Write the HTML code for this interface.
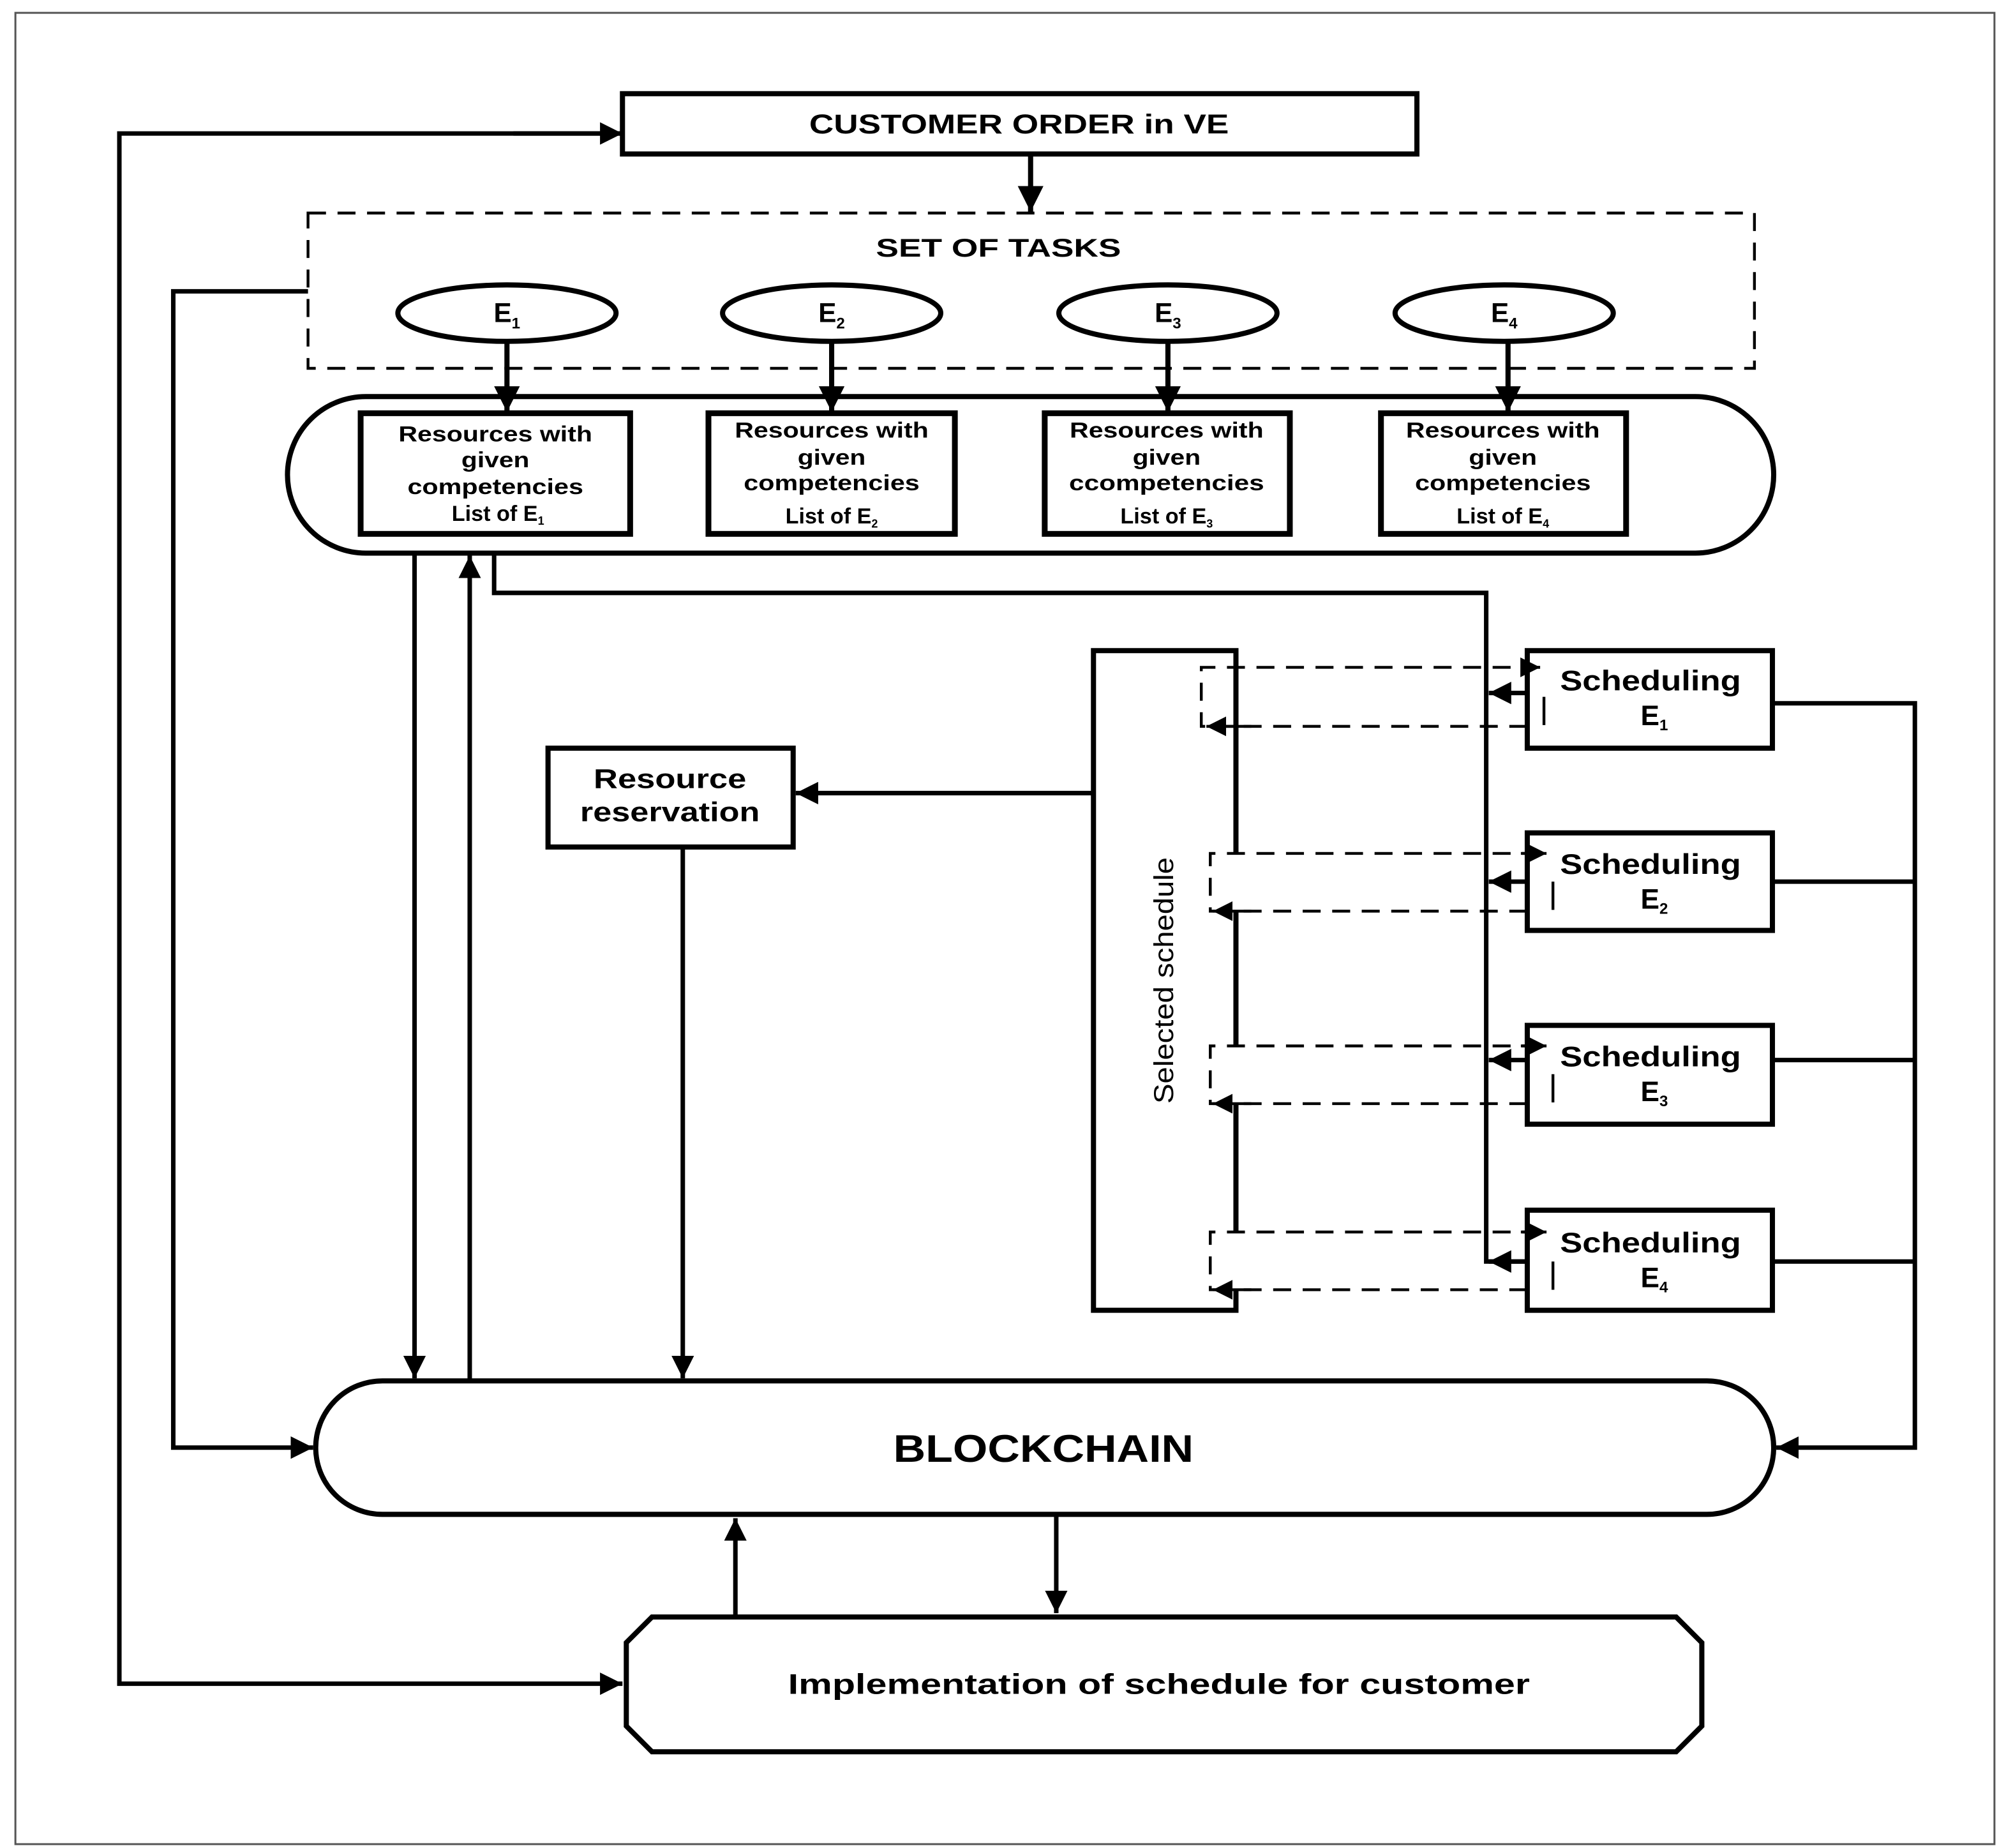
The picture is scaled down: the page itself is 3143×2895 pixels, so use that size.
<!DOCTYPE html>
<html><head><meta charset="utf-8"><style>html,body{margin:0;padding:0;background:#fff}svg{display:block}</style></head><body>
<svg width="3143" height="2895" viewBox="0 0 1563 1440" preserveAspectRatio="none" xmlns="http://www.w3.org/2000/svg" font-family="Liberation Sans, Arial, sans-serif" font-weight="bold">
<defs>
<marker id="a" viewBox="0 0 10 10" refX="10" refY="5" markerWidth="5" markerHeight="5" orient="auto" markerUnits="strokeWidth"><path d="M0,0L10,5L0,10z" fill="#000"/></marker>
<marker id="b" viewBox="0 0 10 10" refX="10" refY="5" markerWidth="7" markerHeight="7" orient="auto" markerUnits="strokeWidth"><path d="M0,0L10,5L0,10z" fill="#000"/></marker>
</defs>
<rect x="0" y="0" width="1563" height="1440" fill="#fff"/>
<rect x="12" y="10" width="1542" height="1427" fill="none" stroke="#555" stroke-width="1.5"/>
<g fill="none" stroke="#000" stroke-width="4">
<rect x="485" y="73" width="619" height="47"/>
<line x1="803" y1="120" x2="803" y2="165" marker-end="url(#a)"/>
<rect x="240" y="166" width="1127" height="121" stroke-width="2.2" stroke-dasharray="14,9"/>
<ellipse cx="395" cy="244" rx="85" ry="22"/>
<ellipse cx="648" cy="244" rx="85" ry="22"/>
<ellipse cx="910" cy="244" rx="85" ry="22"/>
<ellipse cx="1172" cy="244" rx="85" ry="22"/>
<line x1="395" y1="266" x2="395" y2="321" marker-end="url(#a)"/>
<line x1="648" y1="266" x2="648" y2="321" marker-end="url(#a)"/>
<line x1="910" y1="266" x2="910" y2="321" marker-end="url(#a)"/>
<line x1="1175" y1="266" x2="1175" y2="321" marker-end="url(#a)"/>
<rect x="224" y="309" width="1158" height="122" rx="61" ry="61"/>
<rect x="281" y="322" width="210" height="94" stroke-width="4.5"/>
<rect x="552" y="322" width="192" height="94" stroke-width="4.5"/>
<rect x="814" y="322" width="191" height="94" stroke-width="4.5"/>
<rect x="1076" y="322" width="191" height="94" stroke-width="4.5"/>
<g stroke-width="3.5">
<polyline points="483,104 93,104 93,1312 485,1312" marker-end="url(#a)"/>
<line x1="400" y1="104" x2="485" y2="104" marker-end="url(#a)"/>
<polyline points="240,227 135,227 135,1128 244,1128" marker-end="url(#a)"/>
<line x1="323" y1="431" x2="323" y2="1074" marker-end="url(#a)"/>
<line x1="366" y1="1076" x2="366" y2="433" marker-end="url(#a)"/>
<polyline points="385,431 385,462 1158,462 1158,983 1188,983"/>
<line x1="852" y1="618" x2="620" y2="618" marker-end="url(#a)"/>
<line x1="532" y1="660" x2="532" y2="1074" marker-end="url(#a)"/>
</g>
<rect x="427" y="583" width="191" height="77"/>
<polyline points="963,665 963,507 852,507 852,1021 963,1021 963,1005"/>
<line x1="963" y1="710" x2="963" y2="815"/>
<line x1="963" y1="860" x2="963" y2="960"/>
<rect x="1190" y="507" width="191" height="76"/>
<rect x="1190" y="649" width="191" height="76"/>
<rect x="1190" y="799" width="191" height="77"/>
<rect x="1190" y="943" width="191" height="78"/>
<g stroke-width="3.5">
<line x1="1190" y1="540" x2="1160" y2="540" marker-end="url(#a)"/>
<line x1="1190" y1="687" x2="1160" y2="687" marker-end="url(#a)"/>
<line x1="1190" y1="826" x2="1160" y2="826" marker-end="url(#a)"/>
<line x1="1190" y1="983" x2="1160" y2="983" marker-end="url(#a)"/>
<polyline points="1381,548 1492,548 1492,1128 1384,1128" marker-end="url(#a)"/>
<line x1="1381" y1="687" x2="1492" y2="687"/>
<line x1="1381" y1="826" x2="1492" y2="826"/>
<line x1="1381" y1="983" x2="1492" y2="983"/>
</g>
<g stroke-width="2.2" stroke-dasharray="14,9">
<polyline points="1200,520 936,520 936,566 963,566"/>
<line x1="1190" y1="566" x2="965" y2="566"/>
<polyline points="1200,665 943,665 943,710 963,710"/>
<line x1="1190" y1="710" x2="965" y2="710"/>
<polyline points="1200,815 943,815 943,860 963,860"/>
<line x1="1190" y1="860" x2="965" y2="860"/>
<polyline points="1200,960 943,960 943,1005 963,1005"/>
<line x1="1190" y1="1005" x2="965" y2="1005"/>
</g>
<g stroke-width="2.2">
<line x1="1185" y1="520" x2="1200" y2="520" marker-end="url(#b)"/>
<line x1="1185" y1="665" x2="1205" y2="665" marker-end="url(#b)"/>
<line x1="1185" y1="815" x2="1205" y2="815" marker-end="url(#b)"/>
<line x1="1185" y1="960" x2="1205" y2="960" marker-end="url(#b)"/>
<line x1="975" y1="566" x2="940" y2="566" marker-end="url(#b)"/>
<line x1="975" y1="710" x2="945" y2="710" marker-end="url(#b)"/>
<line x1="975" y1="860" x2="945" y2="860" marker-end="url(#b)"/>
<line x1="975" y1="1005" x2="945" y2="1005" marker-end="url(#b)"/>
<line x1="1203" y1="543" x2="1203" y2="565"/>
<line x1="1210" y1="687" x2="1210" y2="709"/>
<line x1="1210" y1="837" x2="1210" y2="859"/>
<line x1="1210" y1="983" x2="1210" y2="1005"/>
</g>
<rect x="246" y="1076" width="1136" height="104" rx="52" ry="52"/>
<line x1="573" y1="1260" x2="573" y2="1183" marker-end="url(#a)" stroke-width="3.5"/>
<line x1="823" y1="1180" x2="823" y2="1257" marker-end="url(#a)" stroke-width="3.5"/>
<polygon points="508,1260 1306,1260 1326,1280 1326,1345 1306,1365 508,1365 488,1345 488,1280"/>
</g>
<g fill="#000" text-anchor="middle">
<text x="794" y="104" font-size="21" textLength="327" lengthAdjust="spacingAndGlyphs">CUSTOMER ORDER in VE</text>
<text x="778" y="200" font-size="20" textLength="191" lengthAdjust="spacingAndGlyphs">SET OF TASKS</text>
<text x="395" y="251" font-size="21">E<tspan font-size="12" dy="5">1</tspan></text>
<text x="648" y="251" font-size="21">E<tspan font-size="12" dy="5">2</tspan></text>
<text x="910" y="251" font-size="21">E<tspan font-size="12" dy="5">3</tspan></text>
<text x="1172" y="251" font-size="21">E<tspan font-size="12" dy="5">4</tspan></text>
<g font-size="17">
<text x="386" y="344" textLength="151" lengthAdjust="spacingAndGlyphs">Resources with</text><text x="386" y="364" textLength="53" lengthAdjust="spacingAndGlyphs">given</text><text x="386" y="385" textLength="137" lengthAdjust="spacingAndGlyphs">competencies</text><text x="388" y="406">List of E<tspan font-size="9" dy="3">1</tspan></text>
<text x="648" y="341" textLength="151" lengthAdjust="spacingAndGlyphs">Resources with</text><text x="648" y="362" textLength="53" lengthAdjust="spacingAndGlyphs">given</text><text x="648" y="382" textLength="137" lengthAdjust="spacingAndGlyphs">competencies</text><text x="648" y="408">List of E<tspan font-size="9" dy="3">2</tspan></text>
<text x="909" y="341" textLength="151" lengthAdjust="spacingAndGlyphs">Resources with</text><text x="909" y="362" textLength="53" lengthAdjust="spacingAndGlyphs">given</text><text x="909" y="382" textLength="152" lengthAdjust="spacingAndGlyphs">ccompetencies</text><text x="909" y="408">List of E<tspan font-size="9" dy="3">3</tspan></text>
<text x="1171" y="341" textLength="151" lengthAdjust="spacingAndGlyphs">Resources with</text><text x="1171" y="362" textLength="53" lengthAdjust="spacingAndGlyphs">given</text><text x="1171" y="382" textLength="137" lengthAdjust="spacingAndGlyphs">competencies</text><text x="1171" y="408">List of E<tspan font-size="9" dy="3">4</tspan></text>
</g>
<text x="522" y="614" font-size="21" textLength="119" lengthAdjust="spacingAndGlyphs">Resource</text>
<text x="522" y="640" font-size="21" textLength="140" lengthAdjust="spacingAndGlyphs">reservation</text>
<g font-size="22">
<text x="1286" y="538" textLength="141" lengthAdjust="spacingAndGlyphs">Scheduling</text><text x="1289" y="565">E<tspan font-size="12" dy="4">1</tspan></text>
<text x="1286" y="681" textLength="141" lengthAdjust="spacingAndGlyphs">Scheduling</text><text x="1289" y="708">E<tspan font-size="12" dy="4">2</tspan></text>
<text x="1286" y="831" textLength="141" lengthAdjust="spacingAndGlyphs">Scheduling</text><text x="1289" y="858">E<tspan font-size="12" dy="4">3</tspan></text>
<text x="1286" y="976" textLength="141" lengthAdjust="spacingAndGlyphs">Scheduling</text><text x="1289" y="1003">E<tspan font-size="12" dy="4">4</tspan></text>
</g>
<text x="0" y="0" font-size="21" font-weight="normal" textLength="192" lengthAdjust="spacingAndGlyphs" transform="translate(914,764) rotate(-90)">Selected schedule</text>
<text x="813" y="1139" font-size="30" textLength="234" lengthAdjust="spacingAndGlyphs">BLOCKCHAIN</text>
<text x="903" y="1320" font-size="22" textLength="578" lengthAdjust="spacingAndGlyphs">Implementation of schedule for customer</text>
</g>
</svg>
</body></html>
